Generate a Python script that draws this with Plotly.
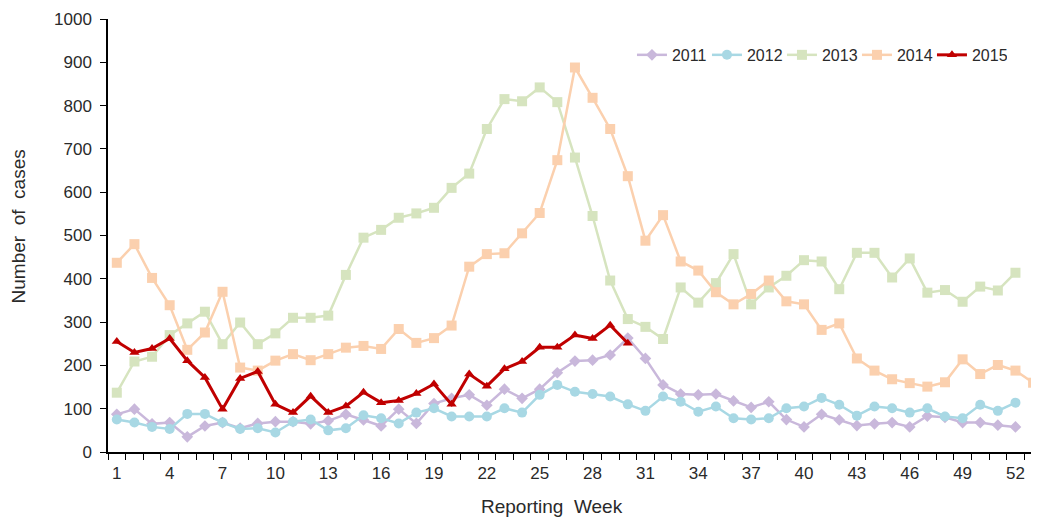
import plotly.graph_objects as go

weeks_52 = list(range(1, 53))
weeks_53 = list(range(1, 54))
weeks_2015 = list(range(1, 31))

cases_2011 = [87, 99, 65, 68, 35, 60, 68, 55, 66, 70, 70, 65, 72, 87, 74, 60, 99, 66, 112, 124,
              132, 108, 145, 124, 145, 183, 210, 212, 224, 263, 216, 155, 134, 132, 134, 118, 103, 116, 75, 58,
              87, 74, 61, 65, 68, 58, 83, 80, 68, 68, 62, 58]
cases_2012 = [75, 68, 58, 53, 88, 88, 68, 53, 55, 45, 70, 75, 50, 55, 85, 78, 66, 91, 101, 82,
              82, 82, 101, 91, 132, 155, 139, 134, 128, 110, 95, 128, 116, 93, 105, 78, 75, 78, 101, 105,
              125, 109, 84, 105, 101, 91, 101, 82, 78, 109, 95, 114]
cases_2013 = [137, 209, 220, 270, 297, 324, 249, 299, 249, 274, 310, 310, 315, 409, 495, 513, 541, 551, 564, 610,
              643, 746, 815, 810, 842, 808, 680, 545, 396, 307, 289, 261, 380, 345, 390, 457, 341, 380, 407, 443,
              440, 376, 460, 460, 403, 447, 368, 374, 347, 382, 373, 414]
cases_2014 = [437, 480, 402, 339, 236, 276, 370, 195, 188, 211, 226, 212, 226, 241, 245, 238, 284, 252, 263, 292,
              428, 457, 459, 505, 552, 674, 888, 818, 746, 637, 488, 547, 440, 419, 369, 341, 365, 396, 348, 341,
              282, 297, 216, 188, 168, 159, 151, 161, 214, 180, 201, 188, 160]
cases_2015 = [255, 230, 239, 262, 211, 172, 99, 170, 186, 110, 91, 129, 91, 106, 138, 114, 119, 135, 157, 110,
              180, 152, 192, 209, 242, 242, 270, 262, 293, 251]

tick_weeks = list(range(1, 53, 3))
y_ticks = list(range(0, 1001, 100))

series = [
    ("2011", weeks_52, cases_2011, "#C9B8DB", "diamond", 9, 2.5),
    ("2012", weeks_52, cases_2012, "#A8D8E4", "circle", 10, 2.5),
    ("2013", weeks_52, cases_2013, "#D6E4BF", "square", 10, 2.5),
    ("2014", weeks_53, cases_2014, "#FBD0AE", "square", 10, 2.5),
    ("2015", weeks_2015, cases_2015, "#C00000", "triangle-up", 9, 3),
]

fig = go.Figure()
for name, xs, ys, color, symbol, msize, lw in series:
    fig.add_trace(go.Scatter(
        x=xs, y=ys, name=name, mode="lines+markers",
        line=dict(color=color, width=lw),
        marker=dict(symbol=symbol, size=msize, color=color),
    ))

font_family = "Liberation Sans, Arial, sans-serif"
text_color = "#2a2a2a"
# the page body adds an 8px offset, so margins are shifted by 8px
fig.update_layout(
    width=1039, height=519,
    margin=dict(l=100, r=0, t=11, b=75, autoexpand=False),
    plot_bgcolor="white", paper_bgcolor="white",
    font=dict(family=font_family, size=16, color=text_color),
    legend=dict(orientation="h", x=0.558, xanchor="left", y=0.917, yanchor="middle",
                font=dict(size=16, color=text_color), itemwidth=30, tracegroupgap=0,
                entrywidth=30, entrywidthmode="pixels",
                bgcolor="rgba(0,0,0,0)"),
    showlegend=True,
    annotations=[
        dict(text="Reporting\u00a0 Week", xref="paper", yref="paper", x=0.4728, y=-0.127,
             xanchor="center", yanchor="middle", showarrow=False,
             font=dict(size=19, color=text_color)),
        dict(text="Number\u00a0 of\u00a0 cases", xref="paper", yref="paper", x=-0.0948, y=0.5208,
             xanchor="center", yanchor="middle", showarrow=False, textangle=-90,
             font=dict(size=19, color=text_color)),
    ],
)
fig.update_xaxes(
    range=[0.5, 53.79], tickvals=tick_weeks, ticktext=[str(t) for t in tick_weeks],
    ticks="", showgrid=False, zeroline=False, automargin=False,
    showline=True, linecolor="black", linewidth=1.5,
    minor=dict(ticks="outside", tick0=0.5, dtick=1, ticklen=6, tickcolor="black", showgrid=False),
    tickfont=dict(size=17), ticklabelstandoff=5,
)
fig.update_yaxes(
    range=[0, 1000], tickvals=y_ticks, ticks="outside", ticklen=6, tickcolor="black",
    showgrid=False, zeroline=False, showline=True, linecolor="black", linewidth=1.5,
    automargin=False, tickfont=dict(size=17), ticklabelstandoff=5,
)

fig.write_html("out.html")
